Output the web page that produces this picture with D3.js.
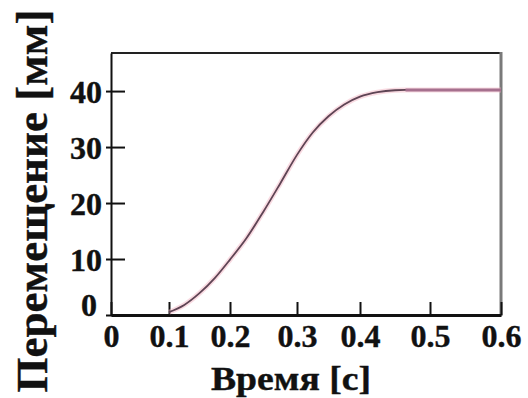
<!DOCTYPE html>
<html>
<head>
<meta charset="utf-8">
<script src="https://cdn.jsdelivr.net/npm/d3@7"></script>
<style>
  body { margin: 0; background: #fff; }
  text { font-family: "Liberation Serif", "DejaVu Serif", serif; font-weight: bold; fill: #111; stroke: #111; stroke-width: 0.4px; }
</style>
</head>
<body>
<script>
// time [s] and displacement [mm]
var time = [0.1, 0.125, 0.15, 0.175, 0.2, 0.225, 0.25, 0.275, 0.3, 0.325, 0.35, 0.375, 0.4, 0.425, 0.45, 0.465, 0.5, 0.55, 0.6];
var displacement = [0.5, 1.8, 3.9, 6.6, 9.9, 13.8, 18.5, 23.5, 28.6, 32.6, 35.5, 37.6, 39.0, 39.8, 40.15, 40.2, 40.2, 40.2, 40.2];
var xTicks = [0, 0.1, 0.2, 0.3, 0.4, 0.5, 0.6];
var xTickLabels = ["0", "0.1", "0.2", "0.3", "0.4", "0.5", "0.6"];
var yTicks = [0, 10, 20, 30, 40];
var yTickLabels = ["0", "10", "20", "30", "40"];
var xTitle = "Время [с]";
var yTitle = "Перемещение [мм]";

var data = [];
for (let i = 0; i < time.length; i++) {
    data.push({ t: time[i], v: displacement[i] });
}

var W = 528, H = 398;
var pLeft = 111, pRight = 501, pTop = 53, pBottom = 315;

// the original axis is not evenly spaced, so the scale goes through each tick
var x = d3.scaleLinear()
    .domain(xTicks)
    .range([111, 169, 230, 297, 360, 430, 501]);
var y = d3.scaleLinear().domain([0, 46.8]).range([pBottom, pTop]);

var svg = d3.select('body').append('svg')
    .attr('width', W)
    .attr('height', H);

// frame
svg.append('line').attr('x1', pLeft).attr('x2', pRight).attr('y1', pTop).attr('y2', pTop)
    .attr('stroke', '#222').attr('stroke-width', 2);
svg.append('line').attr('x1', pRight).attr('x2', pRight).attr('y1', pTop - 1).attr('y2', pBottom + 1)
    .attr('stroke', '#7a7a7a').attr('stroke-width', 3);

// x axis
var xAxis = d3.axisBottom(x)
    .tickValues(xTicks)
    .tickSizeInner(-13)
    .tickSizeOuter(0)
    .tickFormat(function (d, i) { return xTickLabels[i]; });
var gx = svg.append('g').attr('transform', 'translate(0,' + pBottom + ')').call(xAxis);
gx.select('.domain').attr('stroke', '#111').attr('stroke-width', 3);
gx.selectAll('.tick line').attr('stroke', '#111').attr('stroke-width', 2);
gx.selectAll('.tick text')
    .attr('y', 32)
    .attr('dy', 0)
    .style('font-size', '32px')
    .style('font-family', '"Liberation Serif", serif')
    .style('font-weight', 'bold')
    .attr('fill', '#111');

// y axis
var yAxis = d3.axisLeft(y)
    .tickValues(yTicks)
    .tickSizeInner(0)
    .tickSizeOuter(0)
    .tickFormat(function (d, i) { return yTickLabels[i]; });
var gy = svg.append('g').attr('transform', 'translate(' + pLeft + ',0)').call(yAxis);
gy.select('.domain').attr('stroke', '#111').attr('stroke-width', 2);
gy.selectAll('.tick line').attr('x1', -5).attr('x2', 14).attr('stroke', '#111').attr('stroke-width', 2);
gy.selectAll('.tick text')
    .attr('x', function (d) { return d === 0 ? -14 : -9; })
    .attr('dy', function (d) { return d === 0 ? 0 : 11; })
    .style('font-size', '32px')
    .style('font-family', '"Liberation Serif", serif')
    .style('font-weight', 'bold')
    .attr('fill', '#111');

// titles
svg.append('text')
    .attr('x', 291).attr('y', 390)
    .attr('text-anchor', 'middle')
    .attr('textLength', 160)
    .attr('lengthAdjust', 'spacingAndGlyphs')
    .style('font-size', '34px')
    .text(xTitle);
svg.append('text')
    .attr('transform', 'translate(47,201) rotate(-90)')
    .attr('text-anchor', 'middle')
    .style('font-size', '45px')
    .text(yTitle);

// curve
var line = d3.line().curve(d3.curveMonotoneX)
    .x(function (d) { return x(d.t); })
    .y(function (d) { return y(d.v); });

svg.append('path').attr('d', line(data))
    .attr('stroke', '#f4b8c6').attr('stroke-width', 5).attr('stroke-opacity', 0.5).attr('fill', 'none');
svg.append('path').attr('d', line(data))
    .attr('stroke', '#5e4454').attr('stroke-width', 1.8).attr('fill', 'none');

var flat = data.filter(function (d) { return d.t >= 0.465; });
svg.append('path').attr('d', line(flat))
    .attr('stroke', '#a6708e').attr('stroke-width', 3).attr('fill', 'none');
</script>
</body>
</html>
